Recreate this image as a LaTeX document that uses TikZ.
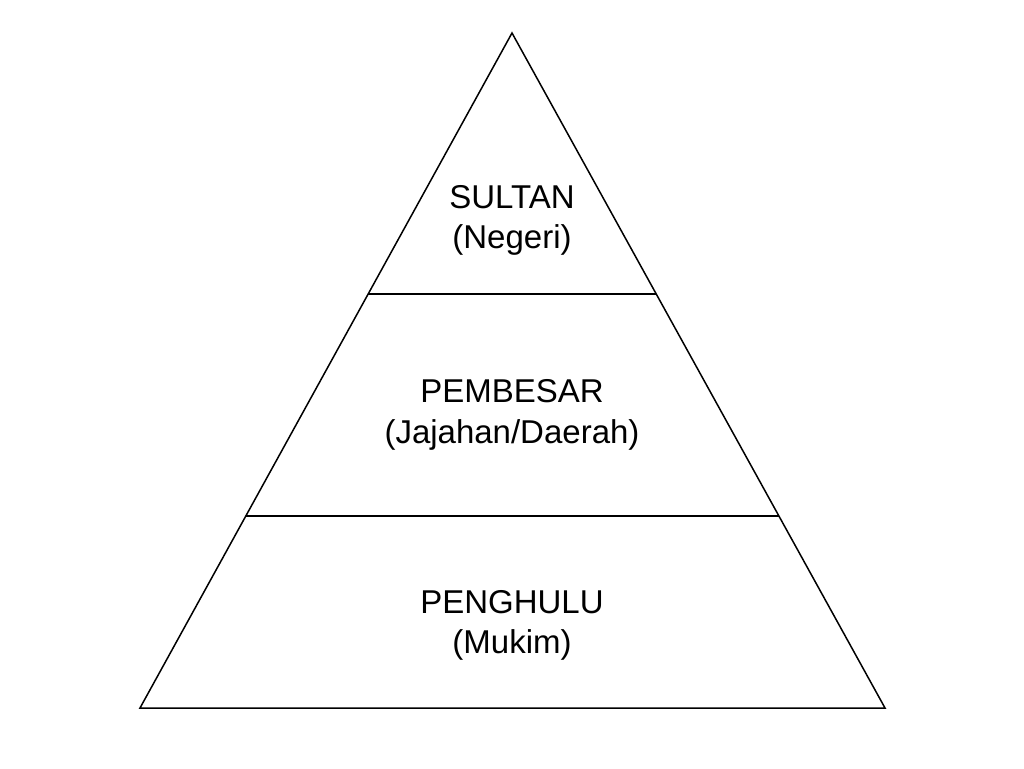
\documentclass[tikz,border=0pt]{standalone}
\usepackage{fontspec}
\setmainfont{Liberation Sans}
\begin{document}
\begin{tikzpicture}[x=1pt,y=-1pt]
\tikzset{
  edge/.style={draw=black, line width=1.5pt, line join=miter},
  lbl/.style={font=\fontsize{33}{40}\selectfont, anchor=base, inner sep=0pt}
}
\useasboundingbox (0,0) rectangle (1024,768);
\coordinate (apex) at (512,33);
\coordinate (bl) at (140,708);
\coordinate (br) at (885,708);
\coordinate (l1) at (368.2,294);
\coordinate (r1) at (656.2,294);
\coordinate (l2) at (245.8,516);
\coordinate (r2) at (778.9,516);
\draw[edge] (apex) -- (bl) -- (br) -- cycle;
\draw[edge] (l1) -- (r1);
\draw[edge] (l2) -- (r2);
\node[lbl] (t1a) at (512,208) {SULTAN};
\node[lbl] (t1b) at (512,248) {(Negeri)};
\node[lbl] (t2a) at (512,402) {PEMBESAR};
\node[lbl] (t2b) at (512,443) {(Jajahan/Daerah)};
\node[lbl] (t3a) at (512,613) {PENGHULU};
\node[lbl] (t3b) at (512,653) {(Mukim)};
\end{tikzpicture}
\end{document}
